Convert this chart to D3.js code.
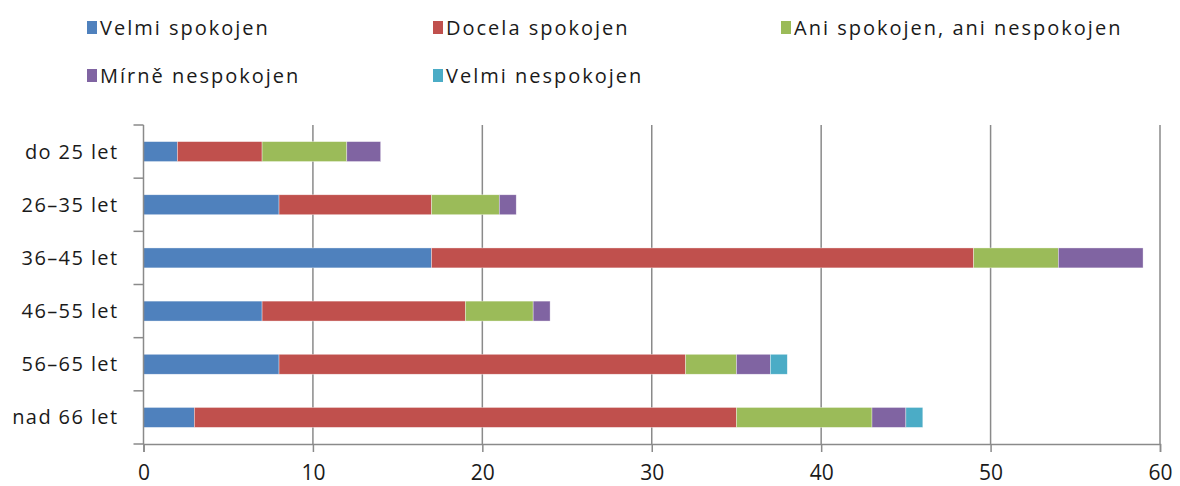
<!DOCTYPE html>
<html>
<head>
<meta charset="utf-8">
<script src="https://cdnjs.cloudflare.com/ajax/libs/d3/7.8.5/d3.min.js"></script>
<style>
  body { margin: 0; background: #fff; }
  text { font-family: "Open Sans", "DejaVu Sans", sans-serif; fill: #1a1a1a; }
</style>
</head>
<body>
<svg id="chart" width="1180" height="486"></svg>
<script>
// data
var categories = ["do 25 let", "26–35 let", "36–45 let", "46–55 let", "56–65 let", "nad 66 let"];
var seriesNames = ["Velmi spokojen", "Docela spokojen", "Ani spokojen, ani nespokojen", "Mírně nespokojen", "Velmi nespokojen"];
var velmiSpokojen   = [2, 8, 17, 7, 8, 3];
var docelaSpokojen  = [5, 9, 32, 12, 24, 32];
var aniAni          = [5, 4, 5, 4, 3, 8];
var mirneNespokojen = [2, 1, 5, 1, 2, 2];
var velmiNespokojen = [0, 0, 0, 0, 1, 1];
var xTicks = [0, 10, 20, 30, 40, 50, 60];
var colors = ["#4f81bd", "#c0504d", "#9bbb59", "#8064a2", "#4bacc6"];

var svg = d3.select("#chart");

var margin = {left: 143.5, top: 125};
var w = 1160 - margin.left;
var h = 444 - margin.top;

// build rows for the stack
var rows = categories.map(function(c, i) {
  var r = {cat: c};
  r[seriesNames[0]] = velmiSpokojen[i];
  r[seriesNames[1]] = docelaSpokojen[i];
  r[seriesNames[2]] = aniAni[i];
  r[seriesNames[3]] = mirneNespokojen[i];
  r[seriesNames[4]] = velmiNespokojen[i];
  return r;
});

var layers = d3.stack().keys(seriesNames)(rows);

var x = d3.scaleLinear().domain([0, 60]).range([0, w]);
var y = d3.scaleBand().domain(categories).range([0, h]).paddingInner(0.625).paddingOuter(0.3125);
var color = d3.scaleOrdinal().domain(seriesNames).range(colors);

var g = svg.append("g").attr("transform", "translate(" + margin.left + "," + margin.top + ")");

// gridlines
g.selectAll(".grid")
.data(xTicks.slice(1))
.enter().append("line")
.attr("class", "grid")
.attr("x1", function(d){ return x(d); })
.attr("x2", function(d){ return x(d); })
.attr("y1", 0)
.attr("y2", h)
.attr("stroke", "#8a8a8a")
.attr("stroke-width", 1.5);

// bars
g.selectAll(".layer")
.data(layers)
.enter().append("g")
.attr("class", "layer")
.attr("fill", function(d){ return color(d.key); })
.selectAll("rect")
.data(function(d){ return d; })
.enter().append("rect")
.attr("x", function(d){ return x(d[0]); })
.attr("y", function(d){ return y(d.data.cat); })
.attr("width", function(d){ return x(d[1]) - x(d[0]); })
.attr("height", y.bandwidth())
.attr("stroke", "rgba(255,255,255,0.6)")
.attr("stroke-width", 0.6);

// x axis
var xAxis = g.append("g")
.attr("transform", "translate(0," + h + ")")
.call(d3.axisBottom(x).tickValues(xTicks).tickSize(8).tickPadding(13));
xAxis.select(".domain").attr("stroke", "#8a8a8a").attr("stroke-width", 1.5);
xAxis.selectAll(".tick line").attr("stroke", "#8a8a8a").attr("stroke-width", 1.5);
xAxis.selectAll(".tick text")
.style("font-size", "21px")
.attr("fill", "#1a1a1a");

// y axis: ticks between categories
var yAxis = g.append("g");
yAxis.append("line")
.attr("x1", 0).attr("x2", 0).attr("y1", 0).attr("y2", h)
.attr("stroke", "#8a8a8a").attr("stroke-width", 1.5);
yAxis.selectAll(".ytick")
.data(d3.range(categories.length + 1))
.enter().append("line")
.attr("x1", -10).attr("x2", 0)
.attr("y1", function(d){ return d * h / categories.length; })
.attr("y2", function(d){ return d * h / categories.length; })
.attr("stroke", "#8a8a8a").attr("stroke-width", 1.5);

yAxis.selectAll(".ylab")
.data(categories)
.enter().append("text")
.attr("x", -25)
.attr("y", function(d){ return y(d) + y.bandwidth() / 2; })
.attr("dy", "0.35em")
.attr("text-anchor", "end")
.style("font-size", "20px")
.style("letter-spacing", "1.4px")
.text(function(d){ return d; });

// legend
var legendPos = [[87, 28], [433, 28], [781, 28], [87, 76], [433, 76]];
var legend = svg.append("g").attr("class", "legend");
var item = legend.selectAll(".item")
.data(seriesNames)
.enter().append("g")
.attr("class", "item")
.attr("transform", function(d, i){ return "translate(" + legendPos[i][0] + "," + legendPos[i][1] + ")"; });
item.append("rect")
.attr("x", 0).attr("y", -7)
.attr("width", 10).attr("height", 13)
.attr("fill", function(d){ return color(d); });
item.append("text")
.attr("x", 13)
.attr("dy", "0.35em")
.style("font-size", "20px")
.style("letter-spacing", "2px")
.text(function(d){ return d; });
</script>
</body>
</html>
